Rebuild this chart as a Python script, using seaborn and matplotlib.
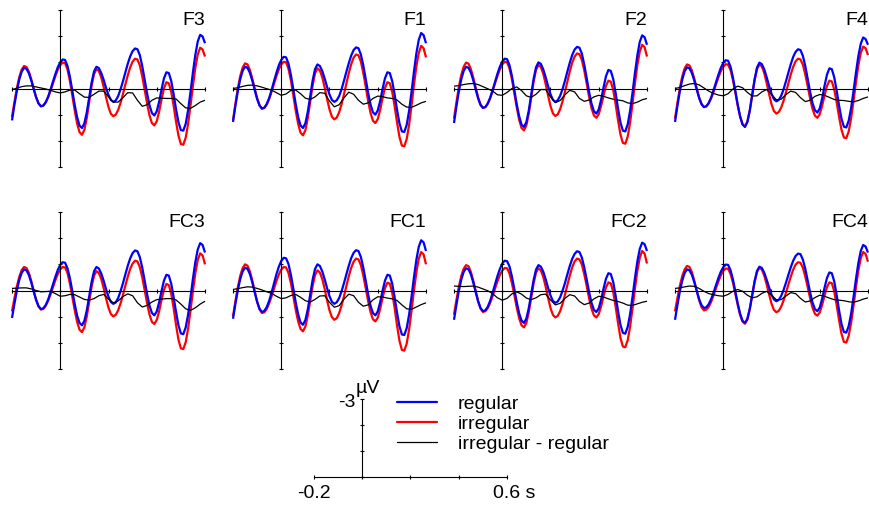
import numpy as np
import pandas as pd
import matplotlib
matplotlib.use("Agg")
import matplotlib.pyplot as plt
import seaborn as sns
from matplotlib.lines import Line2D

sns.set_style("white")
plt.rcParams["font.family"] = ["Liberation Sans", "DejaVu Sans"]
plt.rcParams["text.color"] = "black"

# ---------------- data (µV, negative plotted upward) ----------------
times = np.round(np.linspace(-0.2, 0.6, 81), 3)        # 10 ms samples
times_diff = np.round(np.linspace(-0.2, 0.6, 41), 3)   # 20 ms samples

channels = ["F3", "F1", "F2", "F4", "FC3", "FC1", "FC2", "FC4"]
conditions = ["regular", "irregular", "irregular - regular"]

f3_regular = [1.22, 0.63, 0.10, -0.34, -0.64, -0.79, -0.75, -0.58, -0.30, 0.03, 0.34, 0.57, 0.68,
              0.65, 0.52, 0.31, 0.03, -0.27, -0.56, -0.82, -1.00, -1.11, -1.09, -0.86, -0.45, 0.08, 0.63, 1.10, 1.42,
              1.51, 1.33, 0.91, 0.34, -0.23, -0.65, -0.83, -0.78, -0.59, -0.33, -0.02, 0.25, 0.44, 0.51,
              0.46, 0.29, 0.03, -0.28, -0.62, -0.95, -1.23, -1.43, -1.53, -1.50, -1.27, -0.85, -0.33, 0.19, 0.64, 0.94,
              1.03, 0.87, 0.50, 0.03, -0.39, -0.62, -0.59, -0.29, 0.22, 0.79, 1.29, 1.59,
              1.61, 1.35, 0.82, 0.13, -0.62, -1.29, -1.80, -2.05, -1.99, -1.73]
f3_irregular = [1.09, 0.52, 0.00, -0.43, -0.72, -0.86, -0.82, -0.64, -0.35, 0.00, 0.33, 0.57, 0.68,
                0.65, 0.53, 0.33, 0.08, -0.20, -0.48, -0.72, -0.89, -0.99, -0.97, -0.73, -0.29, 0.27, 0.84, 1.34, 1.67,
                1.77, 1.58, 1.13, 0.52, -0.10, -0.55, -0.74, -0.67, -0.42, -0.06, 0.34, 0.71, 0.97, 1.06,
                1.00, 0.82, 0.55, 0.21, -0.16, -0.51, -0.81, -1.03, -1.14, -1.11, -0.88, -0.46, 0.05, 0.58, 1.03, 1.32,
                1.41, 1.25, 0.88, 0.41, -0.01, -0.24, -0.20, 0.12, 0.66, 1.27, 1.80, 2.12,
                2.15, 1.88, 1.35, 0.65, -0.11, -0.79, -1.30, -1.56, -1.49, -1.22]
f3_difference = [0.04, -0.01, -0.07, -0.10, -0.10, -0.06, -0.02, 0.02, 0.07, 0.13, 0.17, 0.13, 0.06, 0.06,
                 0.20, 0.33, 0.34, 0.22, 0.10, 0.10, 0.32, 0.52, 0.52, 0.35, 0.16, 0.17, 0.45, 0.68, 0.62, 0.45,
                 0.36, 0.37, 0.38, 0.38, 0.40, 0.58, 0.74, 0.76, 0.65, 0.52, 0.45]

f1_regular = [1.28, 0.66, 0.10, -0.36, -0.68, -0.83, -0.79, -0.60, -0.30, 0.06, 0.40, 0.65, 0.77,
              0.73, 0.59, 0.36, 0.06, -0.28, -0.60, -0.89, -1.09, -1.21, -1.19, -0.95, -0.52, 0.03, 0.60, 1.09, 1.41,
              1.51, 1.33, 0.89, 0.30, -0.30, -0.74, -0.92, -0.86, -0.67, -0.38, -0.06, 0.23, 0.44, 0.51,
              0.45, 0.29, 0.03, -0.30, -0.64, -0.97, -1.26, -1.47, -1.57, -1.54, -1.30, -0.89, -0.37, 0.16, 0.61, 0.91,
              1.00, 0.84, 0.48, 0.02, -0.39, -0.62, -0.59, -0.28, 0.23, 0.82, 1.33, 1.64,
              1.66, 1.39, 0.85, 0.13, -0.64, -1.34, -1.86, -2.12, -2.04, -1.73]
f1_irregular = [1.22, 0.58, 0.00, -0.47, -0.80, -0.96, -0.92, -0.71, -0.38, 0.00, 0.37, 0.64, 0.77,
                0.74, 0.61, 0.40, 0.12, -0.18, -0.47, -0.73, -0.92, -1.02, -1.00, -0.75, -0.31, 0.26, 0.85, 1.35, 1.69,
                1.79, 1.60, 1.13, 0.51, -0.11, -0.58, -0.77, -0.69, -0.43, -0.04, 0.40, 0.80, 1.08, 1.18,
                1.11, 0.91, 0.60, 0.22, -0.19, -0.59, -0.93, -1.18, -1.30, -1.27, -1.03, -0.60, -0.08, 0.47, 0.93, 1.23,
                1.32, 1.17, 0.82, 0.37, -0.02, -0.24, -0.20, 0.13, 0.68, 1.30, 1.85, 2.18,
                2.21, 1.93, 1.39, 0.66, -0.13, -0.84, -1.36, -1.63, -1.54, -1.19]
f1_difference = [0.00, -0.03, -0.08, -0.12, -0.13, -0.10, -0.05, 0.01, 0.06, 0.16, 0.26, 0.21, 0.07, 0.06,
                 0.20, 0.37, 0.42, 0.32, 0.16, 0.18, 0.48, 0.70, 0.62, 0.36, 0.14, 0.22, 0.45, 0.60, 0.55, 0.38,
                 0.29, 0.31, 0.36, 0.38, 0.44, 0.60, 0.71, 0.72, 0.64, 0.55, 0.49]

f2_regular = [1.32, 0.69, 0.12, -0.35, -0.67, -0.83, -0.79, -0.61, -0.31, 0.04, 0.38, 0.63, 0.74,
              0.71, 0.57, 0.35, 0.06, -0.25, -0.56, -0.83, -1.03, -1.14, -1.12, -0.89, -0.48, 0.05, 0.60, 1.06, 1.38,
              1.47, 1.28, 0.84, 0.24, -0.37, -0.81, -1.00, -0.94, -0.73, -0.43, -0.09, 0.22, 0.43, 0.51,
              0.45, 0.28, 0.02, -0.30, -0.65, -0.99, -1.28, -1.49, -1.59, -1.56, -1.33, -0.91, -0.40, 0.13, 0.58, 0.87,
              0.96, 0.80, 0.42, -0.05, -0.47, -0.71, -0.67, -0.36, 0.17, 0.77, 1.30, 1.61,
              1.64, 1.37, 0.85, 0.16, -0.59, -1.27, -1.78, -2.03, -1.96, -1.67]
f2_irregular = [1.15, 0.53, -0.05, -0.51, -0.83, -0.99, -0.95, -0.74, -0.41, -0.03, 0.34, 0.61, 0.74,
                0.71, 0.58, 0.37, 0.10, -0.19, -0.48, -0.73, -0.92, -1.02, -1.00, -0.77, -0.36, 0.18, 0.72, 1.19, 1.51,
                1.60, 1.41, 0.96, 0.35, -0.26, -0.71, -0.90, -0.82, -0.56, -0.17, 0.27, 0.67, 0.95, 1.05,
                0.99, 0.79, 0.49, 0.13, -0.27, -0.65, -0.99, -1.22, -1.34, -1.31, -1.09, -0.69, -0.19, 0.32, 0.75, 1.03,
                1.12, 0.98, 0.66, 0.26, -0.10, -0.30, -0.26, 0.06, 0.60, 1.22, 1.76, 2.08,
                2.11, 1.84, 1.30, 0.58, -0.19, -0.89, -1.41, -1.67, -1.58, -1.22]
f2_difference = [-0.09, -0.11, -0.15, -0.18, -0.19, -0.15, -0.07, 0.01, 0.10, 0.24, 0.26, 0.15, 0.00, -0.06,
                 0.08, 0.28, 0.34, 0.22, 0.04, 0.04, 0.32, 0.54, 0.46, 0.24, 0.07, 0.13, 0.38, 0.49, 0.44, 0.32,
                 0.26, 0.30, 0.36, 0.41, 0.44, 0.47, 0.55, 0.58, 0.52, 0.43, 0.38]

f4_regular = [1.28, 0.67, 0.11, -0.34, -0.66, -0.81, -0.77, -0.59, -0.30, 0.04, 0.36, 0.60, 0.71,
              0.68, 0.55, 0.34, 0.06, -0.24, -0.53, -0.79, -0.98, -1.08, -1.06, -0.84, -0.43, 0.08, 0.62, 1.07, 1.38,
              1.47, 1.28, 0.84, 0.24, -0.36, -0.80, -0.99, -0.93, -0.73, -0.43, -0.10, 0.20, 0.41, 0.49,
              0.44, 0.28, 0.03, -0.28, -0.61, -0.93, -1.21, -1.40, -1.50, -1.47, -1.25, -0.86, -0.37, 0.13, 0.56, 0.83,
              0.92, 0.76, 0.38, -0.11, -0.53, -0.77, -0.74, -0.43, 0.07, 0.65, 1.15, 1.46,
              1.49, 1.23, 0.75, 0.10, -0.60, -1.24, -1.71, -1.95, -1.89, -1.67]
f4_irregular = [1.15, 0.55, -0.01, -0.46, -0.77, -0.92, -0.88, -0.69, -0.38, -0.01, 0.34, 0.59, 0.71,
                0.68, 0.56, 0.37, 0.12, -0.16, -0.43, -0.66, -0.83, -0.93, -0.91, -0.71, -0.33, 0.16, 0.65, 1.08, 1.36,
                1.45, 1.27, 0.84, 0.27, -0.31, -0.74, -0.92, -0.84, -0.59, -0.21, 0.21, 0.60, 0.86, 0.96,
                0.90, 0.73, 0.47, 0.15, -0.20, -0.54, -0.83, -1.04, -1.14, -1.11, -0.91, -0.54, -0.09, 0.38, 0.78, 1.04,
                1.12, 0.98, 0.66, 0.26, -0.10, -0.30, -0.27, 0.03, 0.52, 1.08, 1.57, 1.87,
                1.90, 1.64, 1.14, 0.48, -0.23, -0.88, -1.36, -1.60, -1.54, -1.28]
f4_difference = [0.00, -0.04, -0.11, -0.17, -0.19, -0.14, -0.02, 0.10, 0.19, 0.25, 0.28, 0.20, 0.02, -0.09,
                 -0.03, 0.15, 0.29, 0.28, 0.13, 0.04, 0.22, 0.43, 0.41, 0.23, 0.10, 0.15, 0.35, 0.50, 0.45, 0.30,
                 0.23, 0.26, 0.34, 0.42, 0.45, 0.46, 0.49, 0.51, 0.46, 0.38, 0.32]

fc3_regular = [1.05, 0.51, 0.01, -0.40, -0.67, -0.81, -0.77, -0.59, -0.30, 0.04, 0.36, 0.60, 0.71,
               0.68, 0.55, 0.34, 0.06, -0.24, -0.53, -0.79, -0.98, -1.08, -1.06, -0.85, -0.47, 0.02, 0.52, 0.96, 1.24,
               1.33, 1.16, 0.76, 0.22, -0.33, -0.73, -0.90, -0.84, -0.65, -0.37, -0.05, 0.24, 0.44, 0.51,
               0.46, 0.29, 0.03, -0.28, -0.62, -0.95, -1.23, -1.43, -1.53, -1.50, -1.27, -0.87, -0.37, 0.14, 0.58, 0.86,
               0.95, 0.80, 0.45, 0.01, -0.38, -0.60, -0.57, -0.26, 0.25, 0.82, 1.33, 1.64,
               1.67, 1.41, 0.92, 0.26, -0.45, -1.09, -1.57, -1.81, -1.74, -1.45]
fc3_irregular = [0.80, 0.30, -0.15, -0.52, -0.78, -0.90, -0.86, -0.67, -0.36, 0.01, 0.36, 0.61, 0.73,
                 0.70, 0.58, 0.39, 0.14, -0.13, -0.40, -0.63, -0.81, -0.90, -0.88, -0.67, -0.27, 0.24, 0.76, 1.20, 1.50,
                 1.59, 1.41, 0.99, 0.43, -0.14, -0.56, -0.74, -0.67, -0.44, -0.09, 0.30, 0.66, 0.90, 0.99,
                 0.93, 0.76, 0.49, 0.17, -0.19, -0.53, -0.83, -1.03, -1.14, -1.11, -0.89, -0.50, -0.01, 0.49, 0.92, 1.20,
                 1.28, 1.13, 0.79, 0.35, -0.03, -0.25, -0.21, 0.12, 0.68, 1.32, 1.88, 2.21,
                 2.24, 1.98, 1.45, 0.76, 0.02, -0.66, -1.17, -1.42, -1.34, -1.00]
fc3_difference = [-0.08, -0.09, -0.10, -0.10, -0.06, 0.00, 0.05, 0.04, 0.03, 0.12, 0.22, 0.20, 0.15, 0.16,
                  0.25, 0.34, 0.37, 0.31, 0.20, 0.15, 0.33, 0.47, 0.40, 0.23, 0.13, 0.20, 0.47, 0.63, 0.57, 0.44,
                  0.35, 0.33, 0.31, 0.31, 0.36, 0.52, 0.70, 0.76, 0.66, 0.52, 0.41]

fc1_regular = [1.08, 0.51, -0.01, -0.44, -0.73, -0.87, -0.83, -0.63, -0.31, 0.07, 0.43, 0.70, 0.82,
               0.78, 0.63, 0.39, 0.07, -0.27, -0.62, -0.91, -1.13, -1.25, -1.23, -1.01, -0.60, -0.08, 0.45, 0.91, 1.22,
               1.31, 1.13, 0.72, 0.16, -0.41, -0.82, -1.00, -0.94, -0.73, -0.43, -0.09, 0.22, 0.43, 0.51,
               0.45, 0.29, 0.03, -0.28, -0.62, -0.95, -1.24, -1.44, -1.54, -1.51, -1.28, -0.88, -0.38, 0.14, 0.58, 0.86,
               0.95, 0.80, 0.45, 0.01, -0.38, -0.60, -0.57, -0.26, 0.26, 0.85, 1.37, 1.68,
               1.70, 1.44, 0.92, 0.24, -0.50, -1.17, -1.67, -1.92, -1.84, -1.51]
fc1_irregular = [0.99, 0.41, -0.12, -0.56, -0.86, -1.00, -0.95, -0.73, -0.38, 0.03, 0.43, 0.72, 0.86,
                 0.83, 0.70, 0.49, 0.22, -0.07, -0.36, -0.61, -0.80, -0.90, -0.88, -0.67, -0.28, 0.22, 0.74, 1.18, 1.47,
                 1.56, 1.38, 0.96, 0.40, -0.17, -0.59, -0.77, -0.69, -0.44, -0.06, 0.37, 0.76, 1.02, 1.12,
                 1.06, 0.87, 0.57, 0.22, -0.17, -0.55, -0.87, -1.10, -1.22, -1.19, -0.97, -0.58, -0.10, 0.40, 0.82, 1.10,
                 1.18, 1.04, 0.70, 0.28, -0.09, -0.30, -0.26, 0.09, 0.67, 1.34, 1.92, 2.27,
                 2.30, 2.03, 1.49, 0.78, 0.01, -0.69, -1.21, -1.47, -1.38, -1.00]
fc1_difference = [-0.04, -0.07, -0.11, -0.14, -0.13, -0.08, -0.02, 0.05, 0.11, 0.22, 0.31, 0.28, 0.19, 0.15,
                  0.26, 0.39, 0.44, 0.34, 0.21, 0.20, 0.45, 0.64, 0.58, 0.33, 0.14, 0.20, 0.45, 0.60, 0.55, 0.36,
                  0.24, 0.25, 0.29, 0.32, 0.38, 0.55, 0.70, 0.72, 0.63, 0.54, 0.47]

fc2_regular = [1.12, 0.55, 0.02, -0.41, -0.71, -0.85, -0.81, -0.62, -0.30, 0.06, 0.41, 0.67, 0.79,
               0.76, 0.62, 0.39, 0.09, -0.23, -0.55, -0.82, -1.03, -1.14, -1.12, -0.92, -0.54, -0.06, 0.44, 0.87, 1.15,
               1.24, 1.07, 0.67, 0.14, -0.40, -0.80, -0.97, -0.91, -0.72, -0.43, -0.10, 0.19, 0.40, 0.47,
               0.42, 0.26, 0.01, -0.29, -0.62, -0.94, -1.21, -1.40, -1.50, -1.47, -1.26, -0.88, -0.42, 0.06, 0.47, 0.74,
               0.82, 0.68, 0.34, -0.08, -0.45, -0.66, -0.63, -0.32, 0.20, 0.79, 1.31, 1.62,
               1.65, 1.39, 0.90, 0.24, -0.47, -1.11, -1.59, -1.83, -1.77, -1.51]
fc2_irregular = [0.92, 0.37, -0.14, -0.55, -0.83, -0.97, -0.93, -0.71, -0.37, 0.03, 0.41, 0.69, 0.82,
                 0.79, 0.67, 0.47, 0.21, -0.07, -0.35, -0.59, -0.76, -0.86, -0.85, -0.65, -0.29, 0.17, 0.65, 1.06, 1.33,
                 1.41, 1.24, 0.83, 0.28, -0.27, -0.68, -0.85, -0.77, -0.52, -0.14, 0.28, 0.67, 0.93, 1.03,
                 0.97, 0.79, 0.51, 0.16, -0.21, -0.57, -0.89, -1.11, -1.22, -1.19, -0.99, -0.62, -0.17, 0.30, 0.69, 0.95,
                 1.03, 0.90, 0.60, 0.21, -0.12, -0.31, -0.27, 0.06, 0.62, 1.25, 1.81, 2.14,
                 2.17, 1.90, 1.38, 0.68, -0.07, -0.75, -1.25, -1.51, -1.41, -1.03]
fc2_difference = [-0.17, -0.16, -0.15, -0.16, -0.17, -0.13, -0.06, 0.01, 0.12, 0.28, 0.37, 0.30, 0.13, 0.05,
                  0.14, 0.29, 0.35, 0.28, 0.16, 0.14, 0.36, 0.55, 0.49, 0.30, 0.16, 0.21, 0.42, 0.54, 0.48, 0.32,
                  0.22, 0.25, 0.32, 0.38, 0.42, 0.48, 0.56, 0.57, 0.51, 0.45, 0.41]

fc4_regular = [1.12, 0.56, 0.04, -0.38, -0.67, -0.81, -0.77, -0.60, -0.32, 0.01, 0.33, 0.56, 0.67,
               0.64, 0.52, 0.32, 0.07, -0.21, -0.48, -0.72, -0.89, -0.99, -0.98, -0.78, -0.43, 0.03, 0.49, 0.89, 1.16,
               1.24, 1.08, 0.69, 0.17, -0.36, -0.75, -0.91, -0.86, -0.68, -0.41, -0.12, 0.16, 0.34, 0.41,
               0.36, 0.21, -0.02, -0.30, -0.60, -0.89, -1.14, -1.32, -1.41, -1.39, -1.18, -0.83, -0.38, 0.07, 0.46, 0.71,
               0.79, 0.65, 0.31, -0.11, -0.48, -0.69, -0.66, -0.35, 0.17, 0.75, 1.27, 1.58,
               1.61, 1.36, 0.89, 0.25, -0.43, -1.05, -1.51, -1.74, -1.68, -1.45]
fc4_irregular = [0.80, 0.29, -0.17, -0.55, -0.81, -0.94, -0.90, -0.70, -0.37, 0.01, 0.37, 0.64, 0.76,
                 0.73, 0.62, 0.43, 0.18, -0.09, -0.35, -0.58, -0.75, -0.84, -0.83, -0.64, -0.31, 0.12, 0.56, 0.94, 1.19,
                 1.27, 1.11, 0.72, 0.20, -0.32, -0.71, -0.87, -0.80, -0.57, -0.23, 0.15, 0.50, 0.74, 0.83,
                 0.78, 0.62, 0.38, 0.09, -0.23, -0.53, -0.80, -0.99, -1.08, -1.06, -0.87, -0.54, -0.13, 0.29, 0.65, 0.89,
                 0.96, 0.84, 0.55, 0.19, -0.13, -0.31, -0.28, 0.03, 0.55, 1.13, 1.65, 1.96,
                 1.99, 1.73, 1.24, 0.59, -0.12, -0.76, -1.23, -1.47, -1.40, -1.10]
fc4_difference = [-0.08, -0.10, -0.14, -0.17, -0.16, -0.08, 0.03, 0.12, 0.16, 0.20, 0.22, 0.15, 0.03, -0.04,
                  0.03, 0.18, 0.28, 0.24, 0.11, 0.03, 0.18, 0.35, 0.35, 0.21, 0.08, 0.12, 0.30, 0.44, 0.40, 0.27,
                  0.18, 0.22, 0.29, 0.35, 0.37, 0.39, 0.43, 0.45, 0.40, 0.33, 0.28]

x_ticks = [-0.2, 0.0, 0.2, 0.4, 0.6]
y_ticks = [-3, -2, -1, 0, 1, 2, 3]
scale_y_ticks = [-3, -2, -1, 0]

series = {
    "F3": (f3_regular, f3_irregular, f3_difference),
    "F1": (f1_regular, f1_irregular, f1_difference),
    "F2": (f2_regular, f2_irregular, f2_difference),
    "F4": (f4_regular, f4_irregular, f4_difference),
    "FC3": (fc3_regular, fc3_irregular, fc3_difference),
    "FC1": (fc1_regular, fc1_irregular, fc1_difference),
    "FC2": (fc2_regular, fc2_irregular, fc2_difference),
    "FC4": (fc4_regular, fc4_irregular, fc4_difference),
}

rows = []
for ch in channels:
    reg, irr, dif = series[ch]
    for t, v in zip(times, reg):
        rows.append((ch, "regular", t, v))
    for t, v in zip(times, irr):
        rows.append((ch, "irregular", t, v))
    for t, v in zip(times_diff, dif):
        rows.append((ch, "irregular - regular", t, v))
df = pd.DataFrame(rows, columns=["channel", "condition", "time", "amplitude"])

palette = {"regular": "#0000ff", "irregular": "#ff0000", "irregular - regular": "#000000"}
widths = {"regular": 1.6, "irregular": 1.6, "irregular - regular": 0.9}
draw_order = ["irregular", "regular", "irregular - regular"]

# ---------------- layout ----------------
W, H = 870, 505
fig = plt.figure(figsize=(W / 100, H / 100), dpi=100)
fig.patch.set_facecolor("white")


def px_axes(left, top, width, height):
    return fig.add_axes([left / W, 1 - (top + height) / H, width / W, height / H])


def style_axes(ax):
    for s in ["top", "right"]:
        ax.spines[s].set_visible(False)
    for s in ["left", "bottom"]:
        ax.spines[s].set_color("black")
        ax.spines[s].set_linewidth(0.8)
    ax.patch.set_alpha(0)
    ax.tick_params(axis="both", which="both", direction="inout", length=3.4, width=0.8,
                   colors="black", bottom=True, left=True, labelbottom=False, labelleft=False)
    ax.set_xlabel("")
    ax.set_ylabel("")


lefts = [12, 233, 454, 675]
tops = [10, 212]
PW, PH = 193, 157

for i, ch in enumerate(channels):
    r, c = divmod(i, 4)
    ax = px_axes(lefts[c], tops[r], PW, PH)
    sub = df[df["channel"] == ch]
    sns.lineplot(data=sub, x="time", y="amplitude", hue="condition", size="condition",
                 hue_order=draw_order, size_order=draw_order, palette=palette, sizes=widths,
                 estimator=None, errorbar=None, legend=False, ax=ax)
    for ln in ax.lines:
        ln.set_clip_on(False)
        ln.set_solid_capstyle("butt")
    ax.set_xlim(-0.2, 0.6)
    ax.set_ylim(3, -3)
    ax.spines["left"].set_position(("data", 0))
    ax.spines["left"].set_bounds(-3, 3)
    ax.spines["bottom"].set_position(("data", 0))
    ax.spines["bottom"].set_bounds(-0.2, 0.6)
    ax.set_xticks(x_ticks)
    ax.set_yticks(y_ticks)
    style_axes(ax)
    ax.text(0.6, -2.42, ch, ha="right", va="baseline", fontsize=14, color="black")

# ---------------- scale bar + legend ----------------
sax = px_axes(314, 399, 193, 78)
sax.set_xlim(-0.2, 0.6)
sax.set_ylim(0, -3)
sax.spines["left"].set_position(("data", 0))
sax.spines["left"].set_bounds(-3, 0)
sax.spines["bottom"].set_bounds(-0.2, 0.6)
sax.set_xticks(x_ticks)
sax.set_yticks(scale_y_ticks)
style_axes(sax)
sax.annotate("-3", xy=(0, -3), xytext=(-5, -5.5), textcoords="offset points",
             ha="right", va="baseline", fontsize=14, color="black")
sax.annotate("µV", xy=(0, -3), xytext=(-4.5, 4.3), textcoords="offset points",
             ha="left", va="baseline", fontsize=14, color="black")
sax.annotate("-0.2", xy=(-0.2, 0), xytext=(0, -15), textcoords="offset points",
             ha="center", va="baseline", fontsize=14, color="black")
sax.annotate("0.6 s", xy=(0.6, 0), xytext=(-10, -15), textcoords="offset points",
             ha="left", va="baseline", fontsize=14, color="black")

handles = [Line2D([], [], color=palette[c], lw=widths[c]) for c in conditions]
leg = fig.legend(handles, conditions, loc="upper left", bbox_to_anchor=(397 / W, 1 - 395 / H),
                 frameon=False, fontsize=14, handlelength=2.06, handletextpad=1.08,
                 labelspacing=0.13, borderpad=0, borderaxespad=0)
for txt in leg.get_texts():
    txt.set_color("black")

fig.savefig("out.png", dpi=100, facecolor="white")
